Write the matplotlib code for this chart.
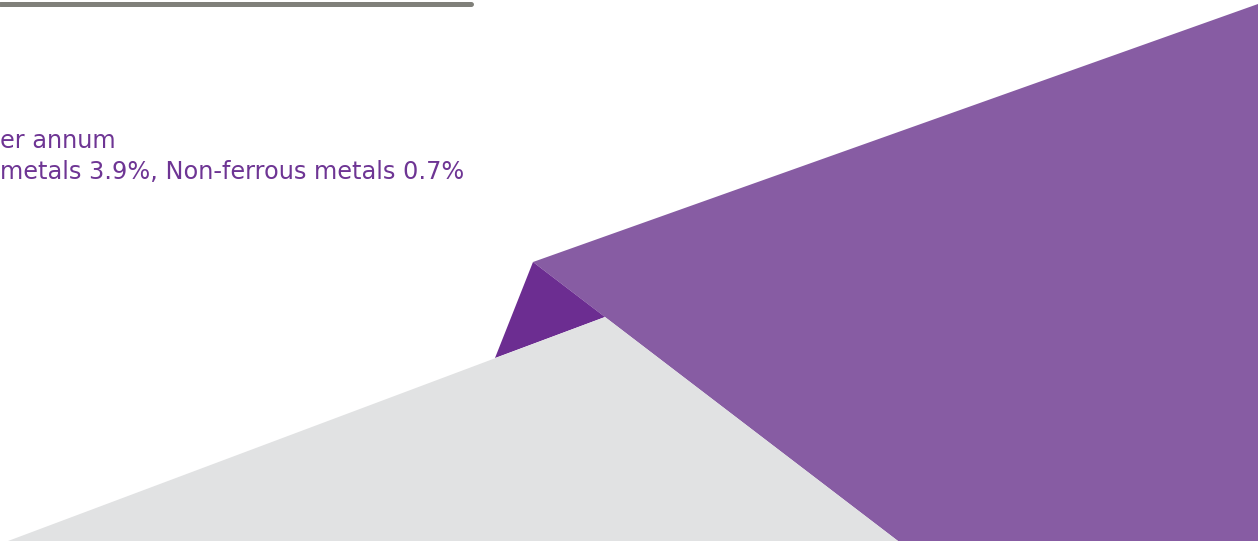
import matplotlib
matplotlib.use("Agg")
import matplotlib.pyplot as plt
from matplotlib.patches import Polygon

# Decorative shapes (pixel space of the 1258x541 image)
rule_x = [0, 471]
rule_y = [4, 4]
light_purple_x = [533, 1258, 1258, 898]
light_purple_y = [262, 4, 541, 541]
dark_purple_x = [533, 605, 495]
dark_purple_y = [262, 317, 358]
grey_x = [8, 605, 898]
grey_y = [541, 317, 541]

text_lines = ["er annum", "metals 3.9%, Non-ferrous metals 0.7%"]

fig = plt.figure(figsize=(12.58, 5.41), dpi=100)
ax = fig.add_axes([0, 0, 1, 1])
ax.set_xlim(0, 1258)
ax.set_ylim(541, 0)
ax.axis("off")

ax.plot(rule_x, rule_y, color="#80807a", lw=3.6, solid_capstyle="round")
ax.add_patch(Polygon(list(zip(light_purple_x, light_purple_y)), closed=True,
                     facecolor="#875ca3", edgecolor="none"))
ax.add_patch(Polygon(list(zip(dark_purple_x, dark_purple_y)), closed=True,
                     facecolor="#6c2d91", edgecolor="none"))
ax.add_patch(Polygon(list(zip(grey_x, grey_y)), closed=True,
                     facecolor="#e1e2e3", edgecolor="none"))

txt_color = "#6e3594"
ax.text(0, 148, text_lines[0], ha="left", va="baseline", fontsize=17.3,
        color=txt_color, family="DejaVu Sans")
ax.text(464, 179, text_lines[1], ha="right", va="baseline", fontsize=17.3,
        color=txt_color, family="DejaVu Sans")

fig.savefig("out.png", dpi=100)
